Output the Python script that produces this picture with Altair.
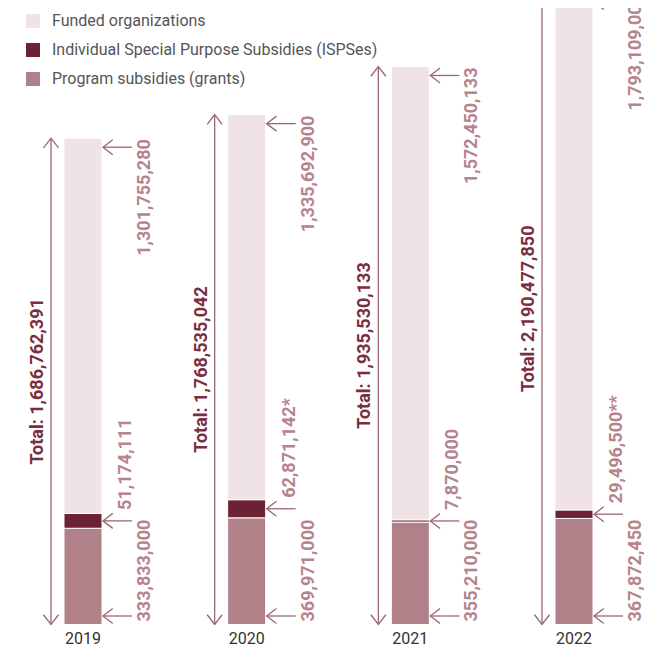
import altair as alt
import pandas as pd

# ---------------- data ----------------
years = [2019, 2020, 2021, 2022]
program = [333833000, 369971000, 355210000, 367872450]
isps = [51174111, 62871142, 7870000, 29496500]
funded = [1301755280, 1335692900, 1572450133, 1793109000]
totals = [1686762391, 1768535042, 1935530133, 2190477850]
isps_notes = ["", "*", "", "**"]
categories = [
    "Funded organizations",
    "Individual Special Purpose Subsidies (ISPSes)",
    "Program subsidies (grants)",
]
colors = ["#efe3e6", "#6b2232", "#b08189"]

# ---------------- layout constants ----------------
W, H = 636, 638
PX_PER_UNIT = 0.2883e-6      # pixels per currency unit
BASE = 616.5                 # y pixel of zero
SPX = 163.67                 # pixels per year
CX0 = 75                     # x pixel of first year

def xu(px):
    return px / SPX

def yu(px):
    return px / PX_PER_UNIT

xscale = alt.Scale(domain=[years[0] - CX0 / SPX, years[0] + (W - CX0) / SPX],
                   nice=False, zero=False, padding=0)
yscale = alt.Scale(domain=[-(H - BASE) / PX_PER_UNIT, BASE / PX_PER_UNIT],
                   nice=False, zero=False, padding=0)

ARROW = "#9a6673"
LABEL = "#b5848d"
TOTAL = "#7a2e3e"

# ---------------- tables ----------------
rows = []
for i, y in enumerate(years):
    rows.append({"year": y, "cat": categories[2], "value": program[i], "ord": 0})
    rows.append({"year": y, "cat": categories[1], "value": isps[i], "ord": 1})
    rows.append({"year": y, "cat": categories[0], "value": funded[i], "ord": 2})
bars_df = pd.DataFrame(rows)

fmt = lambda v: f"{v:,}"
yr = pd.DataFrame({
    "year": years,
    "program": program,
    "isps": isps,
    "funded": funded,
    "total": totals,
    "total_label": ["Total: " + fmt(t) for t in totals],
    "funded_label": [fmt(v) for v in funded],
    "isps_label": [fmt(v) + n for v, n in zip(isps, isps_notes)],
    "program_label": [fmt(v) for v in program],
    "year_label": [str(y) for y in years],
})
yr["stack_top"] = yr["program"] + yr["isps"] + yr["funded"]
yr["isps_mid"] = yr["program"] + yr["isps"] / 2
yr["half"] = yr["total"] / 2
yr["xl"] = yr["year"] - xu(32)
yr["zero"] = 0

arr = []
for _, r in yr.iterrows():
    for yy in [r["stack_top"] - yu(9), r["isps_mid"], yu(8.5)]:
        arr.append({"x1": r["year"] + xu(20), "x2": r["year"] + xu(49), "y": yy})
arr_df = pd.DataFrame(arr)

# ---------------- marks ----------------
bars = alt.Chart(bars_df).mark_bar(size=38, stroke="white", strokeWidth=1).encode(
    x=alt.X("year:Q", scale=xscale, axis=None),
    y=alt.Y("value:Q", stack="zero", scale=yscale, axis=None),
    color=alt.Color(
        "cat:N",
        scale=alt.Scale(domain=categories, range=colors),
        legend=alt.Legend(
            orient="none", legendX=17, legendY=5, title=None,
            symbolType="square", symbolSize=196, symbolStrokeWidth=0,
            labelFontSize=16, labelColor="#555555", labelFont="Roboto",
            labelLimit=0, rowPadding=13, labelOffset=11, padding=0, symbolOffset=0,
        ),
    ),
    order=alt.Order("ord:Q"),
)

base = alt.Chart(yr)

left_rule = base.mark_rule(color=ARROW, strokeWidth=1.3).encode(
    x=alt.X("xl:Q", scale=xscale), y=alt.Y("zero:Q", scale=yscale), y2="total:Q"
)
up_head = base.mark_point(shape="M-1,1.3 L0,0 L1,1.3", size=225, filled=False,
                          stroke=ARROW, strokeWidth=1.3, opacity=1).encode(
    x=alt.X("xl:Q", scale=xscale), y=alt.Y("total:Q", scale=yscale)
)
down_head = base.mark_point(shape="M-1,-1.3 L0,0 L1,-1.3", size=225, filled=False,
                            stroke=ARROW, strokeWidth=1.3, opacity=1).encode(
    x=alt.X("xl:Q", scale=xscale), y=alt.Y("zero:Q", scale=yscale)
)

arr_base = alt.Chart(arr_df)
right_rule = arr_base.mark_rule(color=ARROW, strokeWidth=1.3).encode(
    x=alt.X("x1:Q", scale=xscale), x2="x2:Q", y=alt.Y("y:Q", scale=yscale)
)
right_head = arr_base.mark_point(shape="M1.3,-1 L0,0 L1.3,1", size=225, filled=False,
                                 stroke=ARROW, strokeWidth=1.3, opacity=1).encode(
    x=alt.X("x1:Q", scale=xscale), y=alt.Y("y:Q", scale=yscale)
)

txt = dict(angle=270, baseline="middle", font="Roboto", fontWeight="bold", fontSize=18)

total_text = base.mark_text(align="center", dy=-45, color=TOTAL, **txt).encode(
    x=alt.X("year:Q", scale=xscale), y=alt.Y("half:Q", scale=yscale), text="total_label:N"
)
funded_text = base.mark_text(align="right", dy=62, dx=-1, color=LABEL, **txt).encode(
    x=alt.X("year:Q", scale=xscale), y=alt.Y("stack_top:Q", scale=yscale), text="funded_label:N"
)
isps_text = base.mark_text(align="left", dy=43, dx=11, color=LABEL, **txt).encode(
    x=alt.X("year:Q", scale=xscale), y=alt.Y("isps_mid:Q", scale=yscale), text="isps_label:N"
)
program_text = base.mark_text(align="left", dy=62, dx=3, color=LABEL, **txt).encode(
    x=alt.X("year:Q", scale=xscale), y=alt.Y("zero:Q", scale=yscale), text="program_label:N"
)
year_text = base.mark_text(align="center", baseline="alphabetic", font="Roboto", fontSize=16,
                           color="#333333").encode(
    x=alt.X("year:Q", scale=xscale), y=alt.value(635.5), text="year_label:N"
)

chart = alt.layer(
    bars, left_rule, up_head, down_head, right_rule, right_head,
    total_text, funded_text, isps_text, program_text, year_text,
).properties(
    width=W, height=H, autosize=alt.AutoSizeParams(type="none"), padding=0,
).configure_view(stroke=None)

chart.save("out.html", embed_options={"renderer": "svg", "actions": False})
